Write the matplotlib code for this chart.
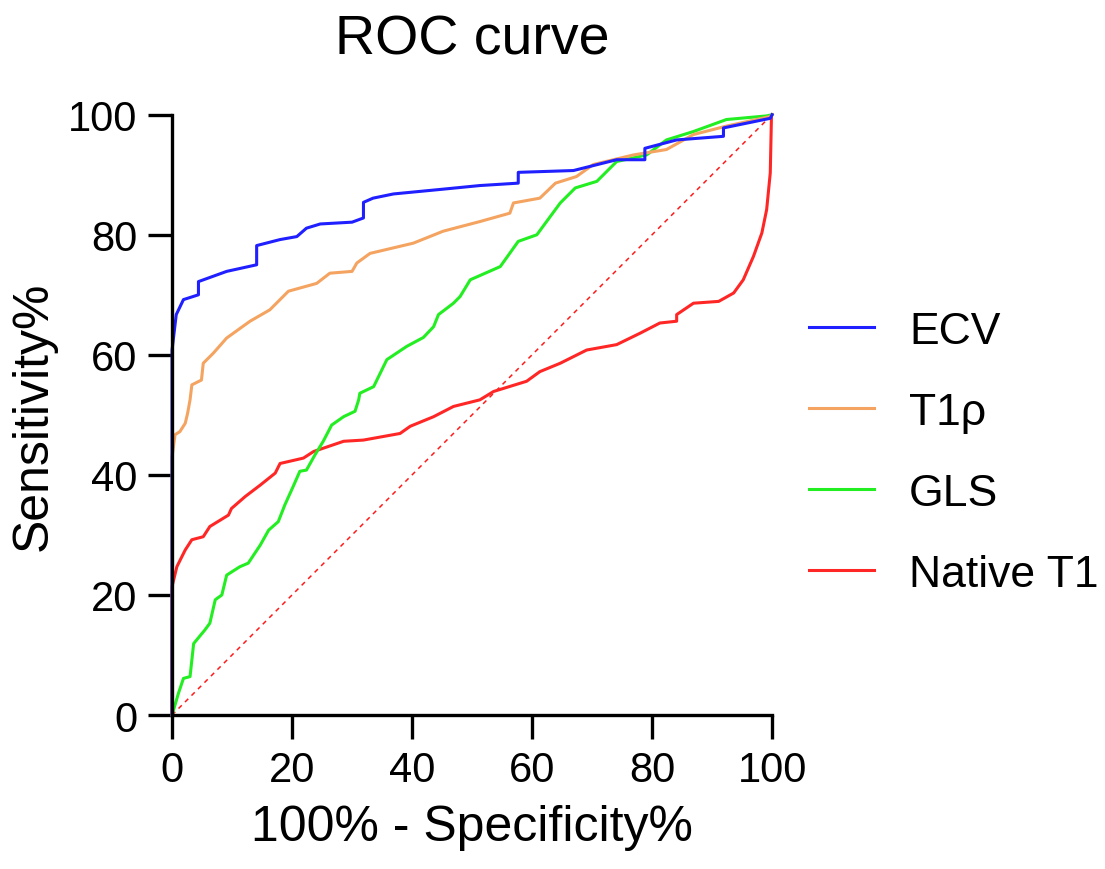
import numpy as np
import matplotlib.pyplot as plt

plt.rcParams['font.family'] = ['Liberation Sans', 'DejaVu Sans']

# 100% - specificity (x) and sensitivity (y)
ecv_x = [0, 0, 0.7, 1.9, 4.4, 4.4, 9.1, 14.1, 14.1, 18, 20.8, 22.4, 24.7, 30, 31.9, 31.9,
         33.5, 36.9, 45.2, 51.3, 57.7, 57.7, 66.9, 74.1, 78.8, 78.8, 84.1, 91.9, 91.9, 99.7, 100]
ecv_y = [0, 60.8, 66.7, 69.2, 70, 72.2, 73.9, 75, 78.2, 79.2, 79.7, 81.1, 81.8, 82.1, 82.8, 85.4,
         86.1, 86.8, 87.6, 88.2, 88.6, 90.4, 90.7, 92.5, 92.5, 94.4, 95.8, 96.4, 97.8, 99.4, 100]

t1rho_x = [0, 0, 0.5, 1.3, 2.2, 2.6, 3.0, 3.3, 4.9, 5.2, 6.9, 9.1, 13, 16.3, 19.4, 24.1, 26.3,
           30, 30.8, 33, 40.2, 45.2, 51.3, 56.3, 56.9, 61.3, 63.9, 67.4, 70.2, 76.9, 82.4,
           86.9, 92.4, 99.7, 100]
t1rho_y = [0, 43, 46.7, 47.2, 48.6, 50.3, 52.5, 55, 55.8, 58.6, 60.3, 62.8, 65.6, 67.5, 70.6,
           71.9, 73.6, 73.9, 75.3, 76.9, 78.6, 80.6, 82.2, 83.6, 85.3, 86.1, 88.6, 89.7, 91.7,
           93.3, 94.2, 96.7, 98.1, 99.7, 100]

gls_x = [0, 1.06, 1.9, 3, 3.6, 5.5, 6.3, 7.2, 8.3, 9.1, 11.3, 12.7, 14.7, 16.1, 17.7, 18.8,
         20.2, 21.3, 22.4, 23.8, 25.2, 26.6, 28.6, 30.5, 31.1, 31.3, 33.6, 35.8, 39.1, 41.9,
         43.6, 44.4, 46.9, 48, 49.7, 54.7, 57.7, 60.8, 64.7, 67.2, 70.8, 74.1, 79.1, 82.4,
         86.9, 92.4, 99.1, 100]
gls_y = [0, 3.6, 6.1, 6.4, 11.9, 14.2, 15.3, 19.2, 20, 23.3, 24.7, 25.3, 28.3, 30.8, 32.2, 35,
         38.1, 40.6, 40.8, 43.3, 45.6, 48.3, 49.7, 50.6, 52.5, 53.6, 54.7, 59.2, 61.4, 62.9,
         64.7, 66.7, 68.6, 69.7, 72.5, 74.7, 78.9, 80, 85.3, 87.8, 88.9, 92.2, 93.3, 95.8,
         97.2, 99.2, 99.8, 100]

nt1_x = [0, 0, 0.8, 2.2, 3.3, 5.2, 6.3, 9.4, 9.9, 12.2, 14.7, 17.2, 18, 21.9, 23.6, 28.6, 31.9,
         38, 39.7, 43.6, 46.9, 51.3, 53.6, 59.1, 61.3, 64.7, 69.1, 74.1, 78, 81.3, 84.1, 84.1,
         86.9, 91.1, 93.6, 95.2, 96.9, 98.3, 99.1, 99.7, 99.9, 100]
nt1_y = [0, 21.4, 24.7, 27.5, 29.2, 29.7, 31.4, 33.3, 34.4, 36.4, 38.3, 40.3, 41.9, 42.8, 43.9,
         45.6, 45.8, 46.9, 48.1, 49.7, 51.4, 52.5, 53.9, 55.6, 57.2, 58.6, 60.8, 61.7, 63.6,
         65.3, 65.6, 66.7, 68.6, 68.9, 70.3, 72.5, 76.4, 80.3, 84.2, 90.3, 99.7, 100]

fig = plt.figure(figsize=(11.05, 8.7), dpi=100)
ax = fig.add_axes([0.1557, 0.177, 0.543, 0.69])

ax.plot([0, 100], [0, 100], color='#ff1a1a', lw=1.1, ls=(0, (3, 3)), clip_on=False)
ax.plot(nt1_x, nt1_y, color='#ff2626', lw=2.2, label='Native T1', clip_on=False)
ax.plot(gls_x, gls_y, color='#22ee22', lw=2.2, label='GLS', clip_on=False)
ax.plot(t1rho_x, t1rho_y, color='#f4a460', lw=2.2, label='T1ρ', clip_on=False)
ax.plot(ecv_x, ecv_y, color='#1f1fff', lw=2.2, label='ECV', clip_on=False)

ax.set_xlim(0, 100)
ax.set_ylim(0, 100)
ax.set_xticks(np.arange(0, 101, 20))
ax.set_yticks(np.arange(0, 101, 20))
for s in ['top', 'right']:
    ax.spines[s].set_visible(False)
for s in ['left', 'bottom']:
    ax.spines[s].set_linewidth(2.4)
ax.tick_params(width=2.4, length=17, labelsize=30, pad=8)

ax.set_xlabel('100% - Specificity%', fontsize=36, labelpad=10)
ax.set_ylabel('Sensitivity%', fontsize=36, labelpad=8)
ax.set_title('ROC curve', fontsize=40, pad=44)

# legend: rows in the reference sit about 81 px apart, first handle at ~328 px from top
handles, labels = ax.get_legend_handles_labels()
handles, labels = handles[::-1], labels[::-1]
fs = 32
spacing = 0.65
anchor = [0.995, 0.4475]
row_top = 870 - 328
row_gap = 81
for _ in range(3):
    leg = ax.legend(handles, labels, loc='center left', bbox_to_anchor=tuple(anchor),
                    frameon=False, fontsize=fs, handlelength=1.45, handletextpad=0.8,
                    labelspacing=spacing)
    fig.canvas.draw()
    r = fig.canvas.get_renderer()
    ys = [l.get_window_extent(r).y0 + l.get_window_extent(r).height / 2 for l in leg.get_lines()]
    pitch = (ys[0] - ys[-1]) / 3
    spacing += (row_gap - pitch) / (fs * 100 / 72)
    anchor[1] += (row_top - ys[0] - 1.5 * (row_gap - pitch)) / 600

fig.savefig('out.png', dpi=100)
